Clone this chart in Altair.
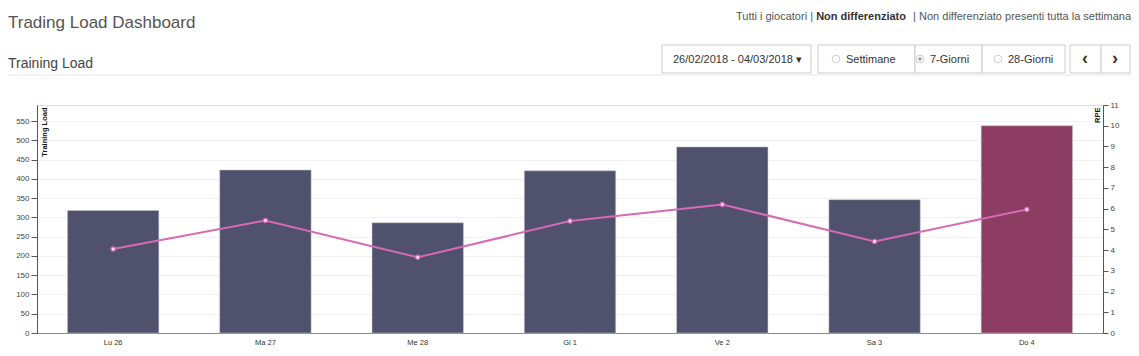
import altair as alt
import pandas as pd

# ---- data ----
days = ["Lu 26", "Ma 27", "Me 28", "Gi 1", "Ve 2", "Sa 3", "Do 4"]
training_load = [318, 423, 286, 421, 483, 346, 538]
rpe = [4.05, 5.43, 3.65, 5.40, 6.20, 4.42, 5.96]
day_type = ["Allenamento"] * 6 + ["Partita"]
load_ticks = list(range(0, 551, 50))
rpe_ticks = list(range(0, 12))

FONT = "Liberation Sans"
BAR = "#4f516d"
BAR_HI = "#8c3d61"
PINK = "#d86ab5"

df = pd.DataFrame({"day": days, "load": training_load, "rpe": rpe, "type": day_type})

OX, OY = 37, 105  # plot origin on page
W, H = 1066, 228
one = pd.DataFrame({"k": [0]})

x_enc = alt.X("day:N", sort=days,
              scale=alt.Scale(paddingInner=0.4, paddingOuter=0.2),
              axis=alt.Axis(title=None, labelAngle=0, ticks=False, labelFontSize=7.5,
                            labelColor="#333", labelPadding=5, domainColor="#888",
                            labelFont=FONT, grid=False))

bars = alt.Chart(df).mark_bar(stroke="#c8c8d0", strokeWidth=0.5).encode(
    x=x_enc,
    y=alt.Y("load:Q", scale=alt.Scale(domain=[0, 591.8], nice=False),
            axis=alt.Axis(values=load_ticks, title="Training Load", titleAngle=270,
                          titleX=3, titleY=2, titleAlign="right", titleBaseline="top",
                          titleFontSize=7.5, titleFontWeight="bold", titleColor="#111",
                          titleFont=FONT, labelFont=FONT, labelFontSize=8,
                          labelColor="#444", tickColor="#555", tickSize=6,
                          domainColor="#555", grid=True, gridColor="#f1f1f1",
                          labelPadding=2)),
    color=alt.Color("type:N", scale=alt.Scale(domain=["Allenamento", "Partita"],
                                              range=[BAR, BAR_HI]), legend=None),
)

line = alt.Chart(df).mark_line(
    color=PINK, strokeWidth=2,
    point=alt.OverlayMarkDef(filled=True, fill="#fbe4f4", stroke=PINK, strokeWidth=1.2, size=18),
).encode(
    x=alt.X("day:N", sort=days),
    y=alt.Y("rpe:Q", scale=alt.Scale(domain=[0, 11], nice=False),
            axis=alt.Axis(orient="right", values=rpe_ticks, title="RPE", titleAngle=270,
                          titleX=-10, titleY=2, titleAlign="right", titleBaseline="top",
                          titleFontSize=7.5, titleFontWeight="bold", titleColor="#111",
                          titleFont=FONT, labelFont=FONT, labelFontSize=8,
                          labelColor="#444", tickColor="#555", tickSize=5,
                          domainColor="#555", grid=False, labelPadding=2)),
)

main = alt.layer(bars, line).resolve_scale(y="independent")


def txt(s, px, py, size=11, color="#333", weight="normal", align="left", baseline="alphabetic"):
    return alt.Chart(one).mark_text(text=s, fontSize=size, color=color, fontWeight=weight,
                                    align=align, baseline=baseline, font=FONT).encode(
        x=alt.value(px - OX), y=alt.value(py - OY))


def box(x1, x2, y1, y2, stroke="#cccccc"):
    return alt.Chart(one).mark_rect(fill="white", stroke=stroke, strokeWidth=1).encode(
        x=alt.value(x1 - OX), x2=alt.value(x2 - OX), y=alt.value(y1 - OY), y2=alt.value(y2 - OY))


def dot(px, py, fill="white", stroke="#bbbbbb", size=60):
    return alt.Chart(one).mark_point(shape="circle", filled=True, fill=fill, stroke=stroke,
                                     strokeWidth=1, size=size).encode(
        x=alt.value(px - OX), y=alt.value(py - OY))


S = -2  # shift of right-hand controls so they fit the page
sep = alt.Chart(one).mark_rule(color="#e6e6e6", strokeWidth=1).encode(
    x=alt.value(8 - OX), x2=alt.value(1130 - OX), y=alt.value(75 - OY))

ui = [
    txt("Trading Load Dashboard", 8, 28, size=17, color="#555"),
    txt("Training Load", 8, 68, size=14, color="#444"),
    txt("Tutti i giocatori |", 815 + S, 20, size=11, color="#555", align="right"),
    txt("Non differenziato", 908 + S, 20, size=11, color="#333", weight="bold", align="right"),
    txt("| Non differenziato presenti tutta la settimana", 1133 + S, 20, size=11, color="#555", align="right"),
    sep,
    box(664 + S, 813 + S, 45, 73),
    box(820 + S, 917 + S, 45, 73),
    box(917 + S, 984 + S, 45, 73),
    box(984 + S, 1067 + S, 45, 73),
    box(1072 + S, 1103 + S, 45, 73),
    box(1103 + S, 1132 + S, 45, 73),
    txt("26/02/2018 - 04/03/2018 \u25be", 675 + S, 63, size=11, color="#333"),
    dot(838 + S, 59), dot(922 + S, 59), dot(1000 + S, 59),
    dot(922 + S, 59, fill="#888888", stroke="#888888", size=8),
    txt("Settimane", 848 + S, 63, size=11, color="#333"),
    txt("7-Giorni", 932 + S, 63, size=11, color="#333"),
    txt("28-Giorni", 1010 + S, 63, size=11, color="#333"),
    txt("\u2039", 1087 + S, 64, size=18, color="#333", weight="bold", align="center"),
    txt("\u203a", 1117 + S, 64, size=18, color="#333", weight="bold", align="center"),
]

chart = alt.layer(main, *ui).properties(
    width=W, height=H,
    autosize=alt.AutoSizeParams(type="none"),
    padding={"left": OX - 8, "top": OY - 8, "right": 28, "bottom": 14},
).configure_view(stroke=None).configure(font=FONT)

chart.save("out.html", embed_options={"renderer": "svg", "actions": False})
